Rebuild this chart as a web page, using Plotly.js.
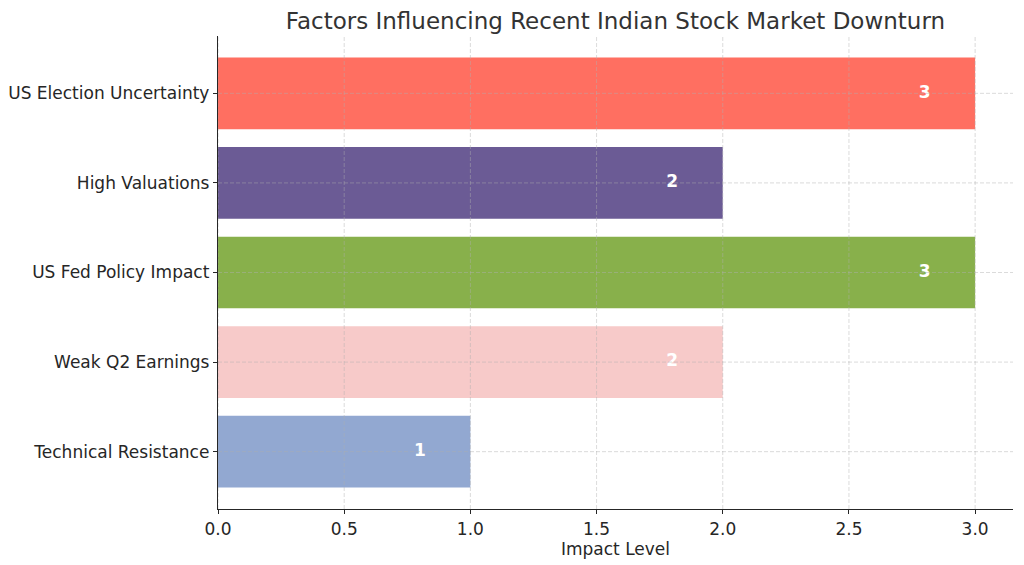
<!DOCTYPE html>
<html><head><meta charset="utf-8">
<script src="https://cdn.plot.ly/plotly-3.0.1.min.js"></script>
<style>html,body{margin:0;padding:0;background:#fff}</style>
</head><body>
<div id="chart" style="width:1024px;height:565px"></div>
<script>
const factors = ["Technical Resistance","Weak Q2 Earnings","US Fed Policy Impact","High Valuations","US Election Uncertainty"];
const impact = [1, 2, 3, 2, 3];
const colors = ["#92A8D1","#F7CAC9","#88B04B","#6B5B95","#FF6F61"];
const xTicks = [0, 0.5, 1.0, 1.5, 2.0, 2.5, 3.0];
const xTickLabels = ["0.0","0.5","1.0","1.5","2.0","2.5","3.0"];

const font = "DejaVu Sans, sans-serif";
const gridStyle = {color: "rgba(176,176,176,0.5)", width: 0.9, dash: "4px,2px"};
const shapes = [];
xTicks.forEach(v => shapes.push({type:"line", xref:"x", yref:"paper", x0:v, x1:v, y0:0, y1:1, line:gridStyle, layer:"above"}));
factors.forEach(c => shapes.push({type:"line", xref:"paper", yref:"y", x0:0, x1:1, y0:c, y1:c, line:gridStyle, layer:"above"}));

const traces = [
  {type:"bar", orientation:"h", y:factors, x:impact, marker:{color:colors}, width:0.8, hoverinfo:"skip"},
  {type:"scatter", mode:"text", y:factors, x:impact.map(v => v - 0.2), text:impact.map(String),
   textfont:{family:font, size:17, color:"#ffffff", weight:"bold"}, hoverinfo:"skip"}
];

const layout = {
  width:1024, height:565,
  margin:{l:218, r:11, t:36, b:56},
  paper_bgcolor:"#fff", plot_bgcolor:"#fff",
  showlegend:false,
  font:{family:font, size:17, color:"#262626"},
  title:{text:"Factors Influencing Recent Indian Stock Market Downturn", font:{family:font, size:23, color:"#333"}, x:0.601, xanchor:"center", y:0.963, yanchor:"middle"},
  xaxis:{range:[0,3.15], tickvals:xTicks, ticktext:xTickLabels, showgrid:false, zeroline:false,
    showline:true, linecolor:"#262626", linewidth:1.2, ticks:"outside", ticklen:4, tickcolor:"#262626",
    title:{text:"Impact Level", font:{family:font, size:17, color:"#262626"}, standoff:0}},
  yaxis:{range:[-0.64,4.64], showgrid:false, zeroline:false, showline:true, linecolor:"#262626", linewidth:1.2,
    ticks:"outside", ticklen:4, tickcolor:"#262626", categoryorder:"array", categoryarray:factors},
  shapes:shapes
};
Plotly.newPlot("chart", traces, layout, {displayModeBar:false, staticPlot:true});
</script>
</body></html>
